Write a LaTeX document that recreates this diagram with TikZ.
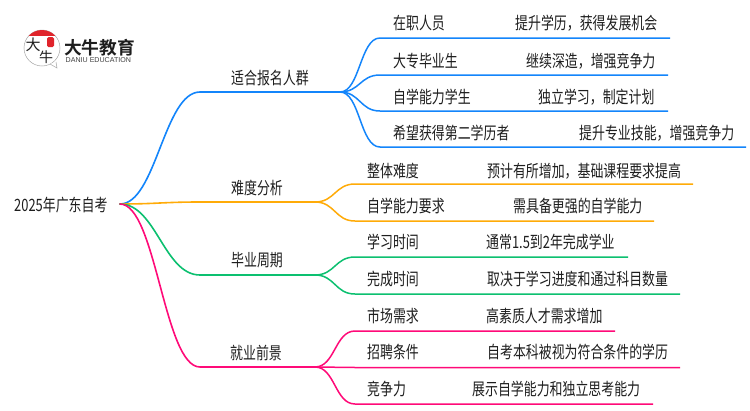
\documentclass[tikz,border=0pt]{standalone}
\usepackage{fontspec}
\setmainfont{Noto Sans CJK SC}[FakeStretch=0.76]
\newfontfamily\logofont{Noto Sans CJK SC Bold}
\newfontfamily\logothin{Noto Sans CJK SC}
\newfontfamily\latinlogo{Liberation Sans}
\definecolor{cblue}{HTML}{1385FB}
\definecolor{corange}{HTML}{FFAB08}
\definecolor{cgreen}{HTML}{0CC070}
\definecolor{cpink}{HTML}{FF0A78}
\definecolor{ctext}{HTML}{1E1E1E}
\definecolor{cred}{HTML}{E0242B}
\tikzset{
  lbl/.style={anchor=west,inner sep=0pt,text=ctext,font=\fontsize{17}{18}\selectfont},
  wire/.style={line width=1.6pt,line cap=round},
  leafwire/.style={line width=1.5pt},
  blue/.style={draw=cblue},
  orange/.style={draw=corange},
  green/.style={draw=cgreen},
  pink/.style={draw=cpink},
}
\begin{document}
\begin{tikzpicture}[x=1pt,y=-1pt]
\useasboundingbox[fill=white] (0,0) rectangle (750,410);

% logo
\node[circle,draw=black!35,line width=0.5pt,minimum size=36pt,inner sep=0pt] (logoc) at (42,48) {};
\begin{scope}
  \clip (42,48) circle (18);
  \fill[cred] (22,30) rectangle (62,36);
\end{scope}
\coordinate (tailA) at (50,64);
\coordinate (tailB) at (57,68);
\coordinate (tailC) at (56,62);
\draw[draw=black!35,line width=0.5pt,fill=white] (tailA) -- (tailB) -- (tailC);
\node[fill=cred,rounded corners=1.5pt,minimum width=7pt,minimum height=10pt,inner sep=0pt] (seal) at (50.5,42) {};
\node[inner sep=0pt,text=ctext,font=\logothin\fontsize{15}{15}\selectfont] (logoa) at (33,45) {大};
\node[inner sep=0pt,text=ctext,font=\logothin\fontsize{14}{14}\selectfont] (logob) at (46,57) {牛};
\node[anchor=west,inner sep=0pt,text=ctext,font=\logofont\fontsize{17.7}{18}\selectfont] (logot) at (64,47.5) {大牛教育};
\node[anchor=west,inner sep=0pt,text=ctext!85,font=\latinlogo\fontsize{7.1}{7}\selectfont] (logos) at (65.5,60.5) {DANIU EDUCATION};

% root
\node[lbl] (root) at (14,205) {2025年广东自考};
\coordinate (o) at (120,204);

% branches
\node[lbl] (b1) at (231,78) {适合报名人群};
\node[lbl] (b2) at (231,188) {难度分析};
\node[lbl] (b3) at (231,260) {毕业周期};
\node[lbl] (b4) at (230,353) {就业前景};

\coordinate (b1s) at (200,92);  \coordinate (b1e) at (340,92);
\coordinate (b2s) at (200,202); \coordinate (b2e) at (315,202);
\coordinate (b3s) at (200,275); \coordinate (b3e) at (315,275);
\coordinate (b4s) at (200,367); \coordinate (b4e) at (315,367);

\draw[wire,blue]   (o) .. controls +(36,0) and +(-36,0) .. (b1s) -- (b1e);
\draw[wire,orange] (o) .. controls +(36,0) and +(-36,0) .. (b2s) -- (b2e);
\draw[wire,green]  (o) .. controls +(36,0) and +(-36,0) .. (b3s) -- (b3e);
\draw[wire,pink]   (o) .. controls +(36,0) and +(-36,0) .. (b4s) -- (b4e);

% leaves: branch 1
\node[lbl] (l11) at (393,23) {在职人员};
\node[lbl] (r11) at (515,23) {提升学历，获得发展机会};
\node[lbl] (l12) at (393,61) {大专毕业生};
\node[lbl] (r12) at (526,61) {继续深造，增强竞争力};
\node[lbl] (l13) at (393,97) {自学能力学生};
\node[lbl] (r13) at (538,97) {独立学习，制定计划};
\node[lbl] (l14) at (393,133) {希望获得第二学历者};
\node[lbl] (r14) at (579,133) {提升专业技能，增强竞争力};
% branch 2
\node[lbl] (l21) at (367,171) {整体难度};
\node[lbl] (r21) at (487,171) {预计有所增加，基础课程要求提高};
\node[lbl] (l22) at (367,206) {自学能力要求};
\node[lbl] (r22) at (513,206) {需具备更强的自学能力};
% branch 3
\node[lbl] (l31) at (367,242) {学习时间};
\node[lbl] (r31) at (486,242) {通常1.5到2年完成学业};
\node[lbl] (l32) at (367,279) {完成时间};
\node[lbl] (r32) at (487,279) {取决于学习进度和通过科目数量};
% branch 4
\node[lbl] (l41) at (367,316) {市场需求};
\node[lbl] (r41) at (486,316) {高素质人才需求增加};
\node[lbl] (l42) at (367,352) {招聘条件};
\node[lbl] (r42) at (487,352) {自考本科被视为符合条件的学历};
\node[lbl] (l43) at (367,389) {竞争力};
\node[lbl] (r43) at (472,389) {展示自学能力和独立思考能力};

% leaf underline end points
\coordinate (s11) at (380,38);  \coordinate (e11) at (670,38);
\coordinate (s12) at (380,75);  \coordinate (e12) at (668,75);
\coordinate (s13) at (380,111); \coordinate (e13) at (668,111);
\coordinate (s14) at (380,147); \coordinate (e14) at (746,147);
\coordinate (s21) at (355,184); \coordinate (e21) at (693,184);
\coordinate (s22) at (355,221); \coordinate (e22) at (654,221);
\coordinate (s31) at (355,257); \coordinate (e31) at (628,257);
\coordinate (s32) at (355,294); \coordinate (e32) at (680,294);
\coordinate (s41) at (355,331); \coordinate (e41) at (615,331);
\coordinate (s42) at (355,367.5); \coordinate (e42) at (680,367.5);
\coordinate (s43) at (355,404); \coordinate (e43) at (653,404);

\foreach \n in {11,12,13,14}
  \draw[leafwire,blue] (b1e) .. controls +(20,0) and +(-20,0) .. (s\n) -- (e\n);
\foreach \n in {21,22}
  \draw[leafwire,orange] (b2e) .. controls +(20,0) and +(-20,0) .. (s\n) -- (e\n);
\foreach \n in {31,32}
  \draw[leafwire,green] (b3e) .. controls +(20,0) and +(-20,0) .. (s\n) -- (e\n);
\foreach \n in {41,42,43}
  \draw[leafwire,pink] (b4e) .. controls +(20,0) and +(-20,0) .. (s\n) -- (e\n);
\end{tikzpicture}
\end{document}
